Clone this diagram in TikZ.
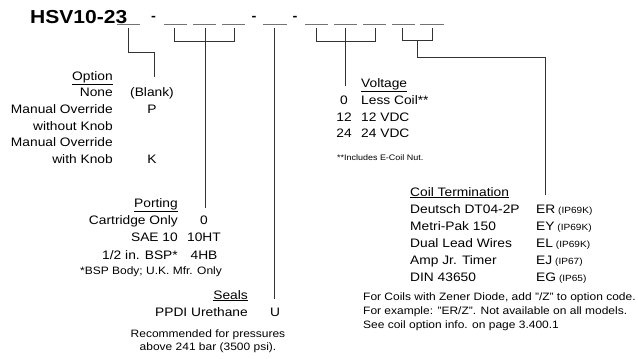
\documentclass[tikz,border=0pt]{standalone}
\usepackage{fontspec}
\setmainfont{Liberation Sans}[FakeStretch=1.12]
\begin{document}
\begin{tikzpicture}[x=1pt,y=-1pt,
  lbl/.style={inner sep=0pt,font=\fontsize{12.3}{14}\selectfont},
  rlbl/.style={lbl,anchor=base east},
  llbl/.style={lbl,anchor=base west},
  clbl/.style={lbl,anchor=base},
  note/.style={inner sep=0pt,font=\fontsize{10.7}{12}\selectfont,anchor=base west},
  snote/.style={inner sep=0pt,font=\fontsize{8}{10}\selectfont,anchor=base west},
  cnote/.style={note,anchor=base},
  ip/.style={inner sep=0pt,font=\fontsize{9}{10}\selectfont,anchor=base west},
  sep/.style={inner sep=0pt,font=\bfseries\fontsize{13}{14}\selectfont,anchor=base},
  blank/.style={draw=black!55,line width=0.9pt},
  conn/.style={draw=black!80,line width=1pt},
]
\useasboundingbox (0,0) rectangle (638,359);

% title and separators
\node[anchor=base west,inner sep=0pt,font=\bfseries\fontsize{18.8}{20}\selectfont] (title) at (30,23) {HSV10-23};
\node[sep] (d1) at (153.5,20.5) {-};
\node[sep] (d2) at (254,20.5) {-};
\node[sep] (d3) at (295,20.5) {-};

% blanks
\foreach \n/\a/\b in {1/117/140,2/164/187,3/193/216,4/222/245,5/263/287,6/305/328,7/334/357,8/363/386,9/392/415,10/420/444}{
  \coordinate (b\n l) at (\a,24);
  \coordinate (b\n r) at (\b,24);
  \draw[blank] (b\n l) -- (b\n r);
}

% --- Option
\node[rlbl] (opth) at (113,80) {\underline{Option}};
\node[rlbl] (o1) at (113,96.5) {None};
\node[rlbl] (o2) at (113,113) {Manual Override};
\node[rlbl] (o3) at (113,130) {without Knob};
\node[rlbl] (o4) at (113,146.5) {Manual Override};
\node[rlbl] (o5) at (113,163) {with Knob};
\node[clbl] (ov1) at (152,96.5) {(Blank)};
\node[clbl] (ov2) at (152,113) {P};
\node[clbl] (ov5) at (152,163) {K};

% --- Porting
\node[rlbl] (porth) at (178,207) {\underline{Porting}};
\node[rlbl] (p1) at (178,224) {Cartridge Only};
\node[rlbl] (p2) at (178,241.5) {SAE 10};
\node[rlbl] (p3) at (178,259) {1/2 in. BSP*};
\node[clbl] (pv1) at (204,224) {0};
\node[clbl] (pv2) at (204,241.5) {10HT};
\node[clbl] (pv3) at (204,259) {4HB};
\node[note] (pn) at (80,274) {*BSP Body; U.K. Mfr. Only};

% --- Seals
\node[rlbl] (sealh) at (248,299) {\underline{Seals}};
\node[rlbl] (s1) at (248,316) {PPDI Urethane};
\node[clbl] (sv1) at (275,316) {U};
\node[cnote] (sn1) at (208,337) {Recommended for pressures};
\node[cnote] (sn2) at (208,350) {above 241 bar (3500 psi).};

% --- Voltage
\node[llbl] (volth) at (361,87) {\underline{Voltage}};
\node[clbl] (vv1) at (344,104) {0};
\node[clbl] (vv2) at (344,121) {12};
\node[clbl] (vv3) at (344,137.5) {24};
\node[llbl] (v1) at (361,104) {Less Coil**};
\node[llbl] (v2) at (361,121) {12 VDC};
\node[llbl] (v3) at (361,137.5) {24 VDC};
\node[snote] (vn) at (337,160) {**Includes E-Coil Nut.};

% --- Coil termination
\node[llbl] (coilh) at (410,196) {\underline{Coil Termination}};
\foreach \i/\y/\t/\c/\p in {1/213/Deutsch DT04-2P/ER/IP69K,2/230/Metri-Pak 150/EY/IP69K,3/247/Dual Lead Wires/EL/IP69K,4/264/Amp Jr. Timer/EJ/IP67,5/281/DIN 43650/EG/IP65}{
  \node[llbl] (c\i) at (410,\y) {\t};
  \node[llbl] (cv\i) at (536,\y) {\c};
  \node[ip] (cp\i) at ([xshift=2.5pt]cv\i.base east) {(\p)};
}
\node[note] (cn1) at (363,300) {For Coils with Zener Diode, add "/Z" to option code.};
\node[note] (cn2) at (363,314) {For example: "ER/Z". Not available on all models.};
\node[note] (cn3) at (363,328) {See coil option info. on page 3.400.1};

% --- connectors
\coordinate (k1) at (128,28);
\coordinate (k1e) at (154,77);
\draw[conn] (k1) |- (154,52) -- (k1e);

\coordinate (k2) at (174,28);
\coordinate (k3) at (205,28);
\coordinate (k4) at (234,28);
\coordinate (k2e) at (205,208);
\draw[conn] (k2) -- (174,41) -- (234,41) -- (k4);
\draw[conn] (k3) -- (k2e);

\coordinate (k5) at (274,28);
\coordinate (k5e) at (274,299);
\draw[conn] (k5) -- (k5e);

\coordinate (k6) at (316,28);
\coordinate (k7) at (345,28);
\coordinate (k8) at (375,28);
\coordinate (k6e) at (345,86);
\draw[conn] (k6) -- (316,41) -- (375,41) -- (k8);
\draw[conn] (k7) -- (k6e);

\coordinate (k9) at (402,28);
\coordinate (k10) at (432,28);
\coordinate (k9e) at (545,195);
\draw[conn] (k9) -- (402,40) -- (432,40) -- (k10);
\draw[conn] (417,40) |- (545,57) -- (k9e);
\end{tikzpicture}
\end{document}
